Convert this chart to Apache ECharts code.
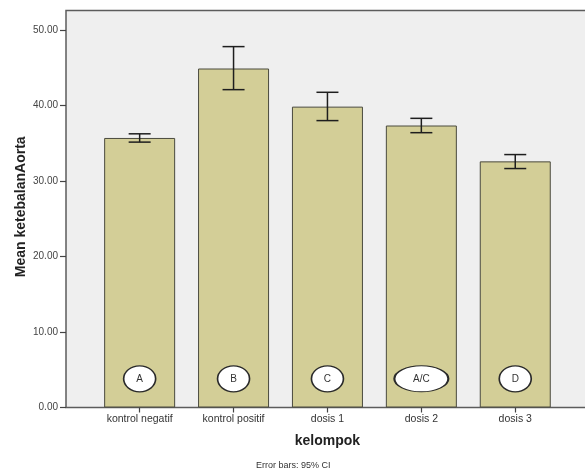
<!DOCTYPE html>
<html>
<head>
<meta charset="utf-8">
<script src="https://cdn.jsdelivr.net/npm/echarts@6/dist/echarts.min.js"></script>
<style>
html,body{margin:0;padding:0;background:#fff;}
#c{width:585px;height:474px;}
</style>
</head>
<body>
<div id="c"></div>
<script>
var categories = ['kontrol negatif', 'kontrol positif', 'dosis 1', 'dosis 2', 'dosis 3'];
var means = [35.7, 44.9, 39.85, 37.35, 32.6];
var ciLow = [35.15, 42.1, 38.0, 36.4, 31.65];
var ciHigh = [36.25, 47.8, 41.75, 38.3, 33.5];
var letters = ['A', 'B', 'C', 'A/C', 'D'];
var yTicks = [0, 10, 20, 30, 40, 50];

var font = 'Arial, "Liberation Sans", sans-serif';
var chart = echarts.init(document.getElementById('c'), null, {renderer: 'canvas'});

var errData = categories.map(function (c, i) { return [i, ciLow[i], ciHigh[i]]; });
var letterY = 3.8;
var letterData = letters.map(function (l, i) {
  return {value: [i, letterY], name: l, symbolSize: [l.length > 1 ? 54 : 32, 26]};
});

chart.setOption({
  backgroundColor: '#ffffff',
  animation: false,
  graphic: [
    {type: 'rect', z: -10, shape: {x: 66, y: 10.5, width: 560, height: 397},
     style: {fill: '#efefef', stroke: '#5c5c5c', lineWidth: 1.5}},
    {type: 'text', left: 256, top: 461,
     style: {text: 'Error bars: 95% CI', font: '9px ' + font, fill: '#333'}}
  ],
  grid: {left: 92.7, width: 469.5, top: 30, bottom: 66.5, containLabel: false},
  xAxis: {
    type: 'category', data: categories,
    axisLine: {show: false},
    axisTick: {show: true, alignWithLabel: true, length: 5, lineStyle: {color: '#444', width: 1.2}},
    axisLabel: {margin: 6, fontSize: 10.5, color: '#333', fontFamily: font},
    name: 'kelompok', nameLocation: 'middle', nameGap: 27, nameMoveOverlap: false,
    nameTextStyle: {fontSize: 14, fontWeight: 'bold', color: '#222', fontFamily: font}
  },
  yAxis: {
    type: 'value', min: 0, max: 50, interval: 10, offset: 26.7,
    splitLine: {show: false},
    axisLine: {show: false},
    axisTick: {show: true, length: 6, lineStyle: {color: '#444', width: 1.2}, customValues: yTicks},
    axisLabel: {margin: 8, fontSize: 10, color: '#444', fontFamily: font, customValues: yTicks,
      formatter: function (v) { return v.toFixed(2); }},
    name: 'Mean ketebalanAorta', nameLocation: 'middle', nameGap: 38, nameMoveOverlap: false,
    nameTextStyle: {fontSize: 14, fontWeight: 'bold', color: '#222', fontFamily: font, padding: [0, 0, 0, 24]}
  },
  series: [
    {
      type: 'bar', data: means, barWidth: 71, z: 2,
      itemStyle: {color: '#d3ce97', borderColor: '#4a4a3e', borderWidth: 1}
    },
    {
      type: 'custom', data: errData, z: 5,
      renderItem: function (params, api) {
        var x = api.value(0);
        var lo = api.coord([x, api.value(1)]);
        var hi = api.coord([x, api.value(2)]);
        var w = 11;
        var st = {stroke: '#1e1e1e', lineWidth: 1.5};
        return {type: 'group', children: [
          {type: 'line', shape: {x1: lo[0], y1: lo[1], x2: hi[0], y2: hi[1]}, style: st},
          {type: 'line', shape: {x1: lo[0] - w, y1: lo[1], x2: lo[0] + w, y2: lo[1]}, style: st},
          {type: 'line', shape: {x1: hi[0] - w, y1: hi[1], x2: hi[0] + w, y2: hi[1]}, style: st}
        ]};
      }
    },
    {
      type: 'scatter', data: letterData, symbol: 'circle', z: 6,
      itemStyle: {color: '#ffffff', borderColor: '#2a2a2a', borderWidth: 1.5, opacity: 1},
      label: {show: true, position: 'inside', formatter: function (p) { return p.name; },
        fontSize: 10, color: '#333', fontFamily: font}
    }
  ]
});
</script>
</body>
</html>
